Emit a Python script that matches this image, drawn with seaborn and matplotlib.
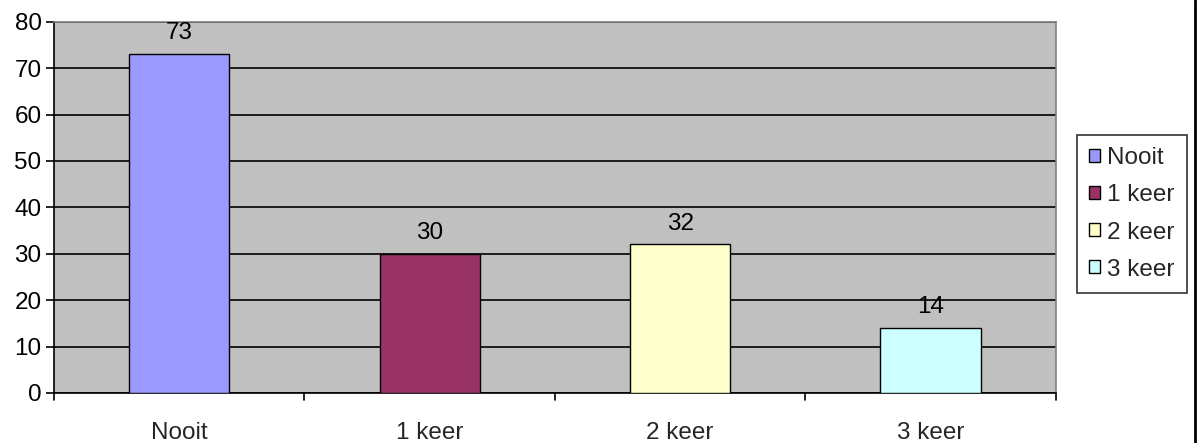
# Staafdiagram: hoe vaak
import pandas as pd
from matplotlib import pyplot as plt
from matplotlib.lines import Line2D
import seaborn as sns

sns.set_style('white')
plt.rcParams['font.family'] = ['Liberation Sans', 'DejaVu Sans']

# Data
categories = ['Nooit', '1 keer', '2 keer', '3 keer']
values = [73, 30, 32, 14]
colors = ['#9999FF', '#993366', '#FFFFCC', '#CCFFFF']

df = pd.DataFrame({'categorie': categories, 'aantal': values})

# Plot
fig = plt.figure(figsize=(12.01, 4.43), dpi=100)
ax = fig.add_axes([0.045, 0.113, 0.834, 0.838])
ax.set_facecolor('#C0C0C0')

sns.barplot(data=df, x='categorie', y='aantal', hue='categorie', palette=colors,
            saturation=1, width=0.4, edgecolor='black', linewidth=1, legend=True,
            ax=ax, zorder=3)

for c in ax.containers:
    ax.bar_label(c, fontsize=17.5, padding=7, color='black')

ax.set_ylim(0, 80)
ax.set_xlim(-0.5, 3.5)
ax.set_yticks(range(0, 81, 10))
ax.yaxis.grid(True, color='black', linewidth=1.2, zorder=1)
ax.set_axisbelow(True)
ax.tick_params(axis='y', labelsize=17.5, length=6, width=1.2, direction='out', left=True,
               colors='black', pad=3)
ax.set_xticks(range(4))
ax.set_xticklabels(categories)
ax.tick_params(axis='x', labelsize=17.5, length=0, pad=21)
# tick marks between categories
for xb in [-0.5, 0.5, 1.5, 2.5, 3.5]:
    ax.plot([xb, xb], [0, -0.018], transform=ax.get_xaxis_transform(), color='black',
            lw=1.2, clip_on=False)
ax.set_xlabel('')
ax.set_ylabel('')

for s in ['top', 'right']:
    ax.spines[s].set_color('#808080')
    ax.spines[s].set_linewidth(1.2)
for s in ['left', 'bottom']:
    ax.spines[s].set_color('black')
    ax.spines[s].set_linewidth(1.2)

leg = ax.legend(loc='center left', bbox_to_anchor=(1.021, 0.482), fontsize=17.5, frameon=True,
                fancybox=False, edgecolor='black', handlelength=0.45, handleheight=0.45,
                handletextpad=0.3, labelspacing=0.62, borderpad=0.5, borderaxespad=0)
leg.get_frame().set_linewidth(1.2)

# rechter kaderlijn
fig.add_artist(Line2D([0.995, 0.995], [0, 1], color='black', lw=2, transform=fig.transFigure))

fig.savefig('out.png', dpi=100)
